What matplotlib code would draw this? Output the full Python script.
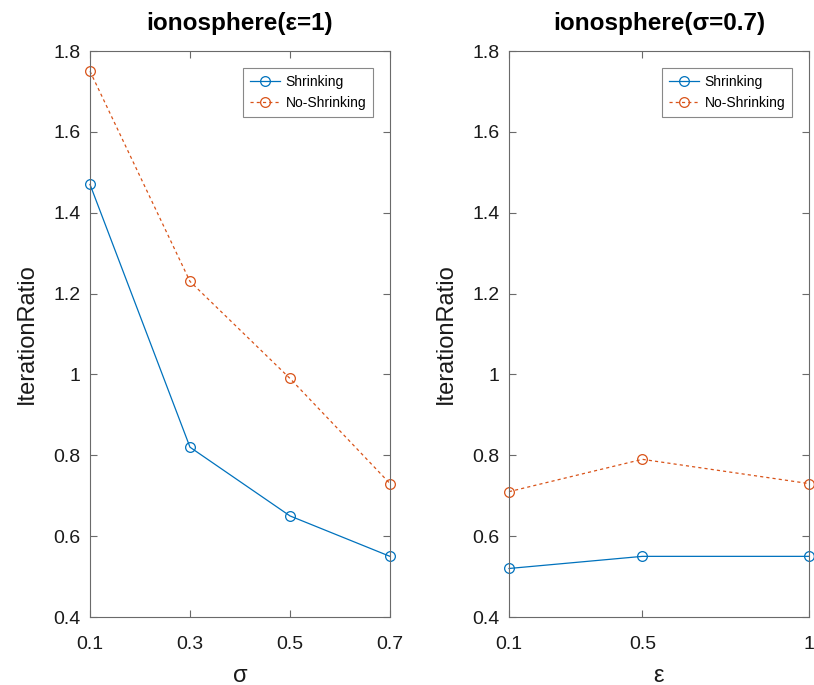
import matplotlib
matplotlib.use("Agg")
import matplotlib.pyplot as plt

plt.rcParams['font.family'] = ['Liberation Sans', 'DejaVu Sans']

sigma = [0.1, 0.3, 0.5, 0.7]
shrink_sigma = [1.47, 0.82, 0.65, 0.55]
noshrink_sigma = [1.75, 1.23, 0.99, 0.73]

eps = [0.1, 0.5, 1.0]
shrink_eps = [0.52, 0.55, 0.55]
noshrink_eps = [0.71, 0.79, 0.73]

yticks = [0.4, 0.6, 0.8, 1.0, 1.2, 1.4, 1.6, 1.8]
ylabels = ['0.4', '0.6', '0.8', '1', '1.2', '1.4', '1.6', '1.8']

blue = '#0072BD'
orange = '#D95319'
axcol = '#6a6a6a'

fig = plt.figure(figsize=(8.14, 6.85), dpi=100)
ax1 = fig.add_axes([90/814, 1-617/685, 300/814, 566/685])
ax2 = fig.add_axes([509/814, 1-617/685, 300/814, 566/685])

def style(ax, x, xt, xtl, xlabel, title):
    ax.set_xlim(x[0], x[-1])
    ax.set_ylim(0.4, 1.8)
    ax.set_xticks(xt)
    ax.set_xticklabels(xtl)
    ax.set_yticks(yticks)
    ax.set_yticklabels(ylabels)
    ax.tick_params(direction='in', top=True, right=True, length=5, width=0.8,
                   colors=axcol, labelcolor='#1a1a1a', labelsize=14)
    ax.tick_params(axis='x', pad=14)
    ax.tick_params(axis='y', pad=7)
    for s in ax.spines.values():
        s.set_color(axcol)
        s.set_linewidth(0.8)
    ax.set_xlabel(xlabel, fontsize=17, color='#1a1a1a', labelpad=8)
    ax.set_ylabel('IterationRatio', fontsize=17, color='#1a1a1a', labelpad=11)
    ax.set_title(title, fontsize=17.5, fontweight='bold', pad=15)
    leg = ax.legend(loc='upper right', fontsize=10, frameon=True, fancybox=False,
                    edgecolor=axcol, borderaxespad=1.2, handlelength=2.2,
                    handletextpad=0.4, labelspacing=0.55, borderpad=0.5)
    leg.get_frame().set_linewidth(0.8)

kw = dict(lw=0.9, marker='o', mfc='none', ms=7, mew=0.9, clip_on=False)
ax1.plot(sigma, shrink_sigma, '-', color=blue, label='Shrinking', **kw)
ax1.plot(sigma, noshrink_sigma, '--', color=orange, label='No-Shrinking', dashes=(2.5, 2.5), **kw)
style(ax1, sigma, sigma, ['0.1', '0.3', '0.5', '0.7'], 'σ', 'ionosphere(ε=1)')

ax2.plot(eps, shrink_eps, '-', color=blue, label='Shrinking', **kw)
ax2.plot(eps, noshrink_eps, '--', color=orange, label='No-Shrinking', dashes=(2.5, 2.5), **kw)
style(ax2, eps, eps, ['0.1', '0.5', '1'], 'ε', 'ionosphere(σ=0.7)')

fig.savefig('out.png', dpi=100)
